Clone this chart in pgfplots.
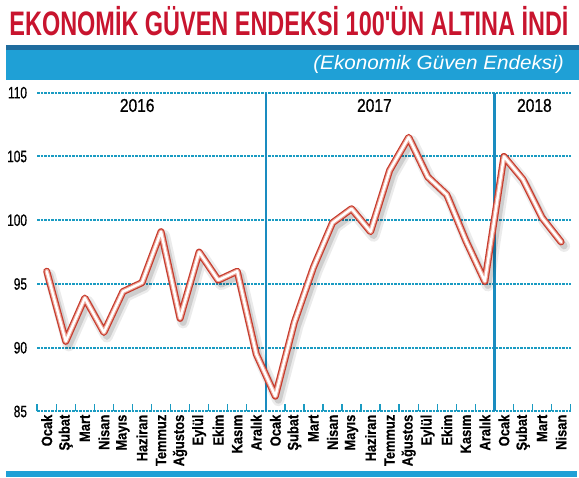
\documentclass[border=0pt]{standalone}
\usepackage{pgfplots}
\usepackage{pgfplotstable}
\pgfplotsset{compat=1.18}
\usepackage{fontspec}
\setmainfont{Liberation Sans}
\newfontfamily\titlefont[FakeStretch=0.69]{Liberation Sans}
\newfontfamily\condfont[FakeStretch=0.72,FakeBold=0.6]{Liberation Sans}
\newfontfamily\yearfont[FakeStretch=0.84,FakeBold=0.8]{Liberation Sans}
\newfontfamily\monthfont[FakeStretch=0.86,FakeBold=0.5]{Liberation Sans}
\newfontfamily\subfont[FakeStretch=1.06]{Liberation Sans}

\definecolor{titlered}{HTML}{C8142E}
\definecolor{barblue}{HTML}{1F6C9E}
\definecolor{bandcyan}{HTML}{1FA0D6}
\definecolor{gridcyan}{HTML}{1A9BC2}
\definecolor{sepblue}{HTML}{1A8CC0}
\definecolor{linered}{HTML}{C63A2C}
\definecolor{linepink}{HTML}{EDA598}

% month index (0 = Ocak 2016) and economic confidence index
\pgfplotstableread{
m  v
0  96.0
1  90.5
2  93.9
3  91.2
4  94.4
5  95.1
6  99.1
7  92.3
8  97.5
9  95.3
10 96.0
11 89.5
12 86.2
13 92.0
14 96.3
15 99.8
16 100.9
17 99.1
18 103.9
19 106.5
20 103.4
21 102.0
22 98.4
23 95.2
24 105.0
25 103.2
26 100.2
27 98.3
}\egedata

\begin{document}
\begin{tikzpicture}[x=1pt,y=1pt]
\path[use as bounding box] (0,0) rectangle (579,478);

% header
\node[anchor=base, text=titlered, inner sep=0pt,
      font=\titlefont\bfseries\fontsize{34}{34}\selectfont]
  at (289,442) {EKONOMİK GÜVEN ENDEKSİ 100'ÜN ALTINA İNDİ};
\fill[barblue] (6,428) rectangle (579,433);
\fill[bandcyan] (6,398) rectangle (579,428);
\node[anchor=base east, text=white, inner sep=0pt,
      font=\subfont\itshape\fontsize{19.5}{19.5}\selectfont]
  at (564,408) {(Ekonomik Güven Endeksi)};
% bottom strip
\fill[bandcyan] (6,1) rectangle (577,7);

\begin{axis}[
    at={(37.2pt,66.5pt)}, anchor=south west,
    scale only axis,
    width=533.4pt, height=318.8pt,
    xmin=-0.5, xmax=27.5,
    ymin=85, ymax=110,
    axis line style={draw=none},
    ytick={85,90,95,100,105,110},
    yticklabels={85,90,95,100,105,110},
    ytick pos=left,
    major tick length=0pt,
    yticklabel style={anchor=east, inner sep=0pt, xshift=-10pt,
        font=\condfont\fontsize{16.5}{16.5}\selectfont},
    ymajorgrids,
    grid style={gridcyan, line width=2pt, dash pattern=on 2.4pt off 1.1pt},
    xtick={0,...,27},
    xticklabels={Ocak,Şubat,Mart,Nisan,Mayıs,Haziran,Temmuz,Ağustos,Eylül,Ekim,Kasım,Aralık,
                 Ocak,Şubat,Mart,Nisan,Mayıs,Haziran,Temmuz,Ağustos,Eylül,Ekim,Kasım,Aralık,
                 Ocak,Şubat,Mart,Nisan},
    xtick pos=left,
    xticklabel style={rotate=90, anchor=east, inner sep=2pt, xshift=-1pt,
        font=\monthfont\bfseries\fontsize{15}{15}\selectfont},
    minor xtick={-0.5,0.5,...,27.5},
    minor tick length=7pt,
    minor x tick style={gridcyan, line width=1.4pt},
    clip=false,
]
% year separators
\draw[sepblue, line width=2.2pt] (axis cs:11.5,85) -- (axis cs:11.5,110);
\draw[sepblue, line width=2.2pt] (axis cs:23.5,85) -- (axis cs:23.5,110);
\node[anchor=base, inner sep=0pt, font=\yearfont\fontsize{18.5}{18.5}\selectfont]
  at (axis cs:4.75,108.5) {2016};
\node[anchor=base, inner sep=0pt, font=\yearfont\fontsize{18.5}{18.5}\selectfont]
  at (axis cs:17.2,108.5) {2017};
\node[anchor=base, inner sep=0pt, font=\yearfont\fontsize{18.5}{18.5}\selectfont]
  at (axis cs:25.6,108.5) {2018};

% soft shadow
\addplot[draw=black, opacity=0.08, line width=12pt, line join=round, line cap=round,
         xshift=3pt, yshift=-4pt, forget plot] table[x=m, y=v] {\egedata};
\addplot[draw=black, opacity=0.12, line width=7pt, line join=round, line cap=round,
         xshift=3pt, yshift=-4pt, forget plot] table[x=m, y=v] {\egedata};
% index line: red rim, pink band, white core
\addplot[draw=linered, line width=7pt, line join=round, line cap=round, forget plot]
  table[x=m, y=v] {\egedata};
\addplot[draw=linepink, line width=4.6pt, line join=round, line cap=round, forget plot]
  table[x=m, y=v] {\egedata};
\addplot[draw=white, line width=2.4pt, line join=round, line cap=round]
  table[x=m, y=v] {\egedata};
\end{axis}
\end{tikzpicture}
\end{document}
